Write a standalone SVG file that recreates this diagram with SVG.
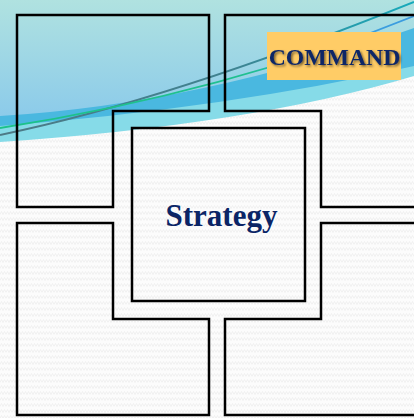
<svg xmlns="http://www.w3.org/2000/svg" width="414" height="418" viewBox="0 0 414 418">
  <defs>
    <!-- faint zigzag paper texture -->
    <pattern id="zigzag" width="6" height="6" patternUnits="userSpaceOnUse">
      <rect width="6" height="6" fill="#fcfcfc"/>
      <path d="M0,4.5 L1.5,1.5 L3,4.5 L4.5,1.5 L6,4.5" fill="none" stroke="#efefef" stroke-width="0.9"/>
    </pattern>
    <linearGradient id="skyFill" x1="0" y1="0" x2="0" y2="1">
      <stop offset="0" stop-color="#b0e2e0"/>
      <stop offset="1" stop-color="#8ccbea"/>
    </linearGradient>
    <linearGradient id="darkLine" gradientUnits="userSpaceOnUse" x1="0" y1="0" x2="414" y2="0">
      <stop offset="0" stop-color="#4d7a86"/>
      <stop offset="0.55" stop-color="#3f8290"/>
      <stop offset="1" stop-color="#17aabb"/>
    </linearGradient>
    <linearGradient id="greenLine" gradientUnits="userSpaceOnUse" x1="0" y1="0" x2="414" y2="0">
      <stop offset="0" stop-color="#1cc28a"/>
      <stop offset="0.6" stop-color="#20c090"/>
      <stop offset="0.8" stop-color="#3aa2dc"/>
      <stop offset="1" stop-color="#3b9be0"/>
    </linearGradient>
    <filter id="textShadow" x="-10%" y="-30%" width="120%" height="160%">
      <feDropShadow dx="1.5" dy="1.5" stdDeviation="0.9" flood-color="#000" flood-opacity="0.55"/>
    </filter>
    <style>
      .piece { fill: none; stroke: #000; stroke-width: 2.5; stroke-linejoin: miter; }
      .label { font-family: "Liberation Serif", "Times New Roman", serif; font-weight: bold; fill: #0b2566; text-anchor: middle; }
    </style>
  </defs>

  <!-- background -->
  <rect width="414" height="418" fill="url(#zigzag)"/>

  <!-- sweeping wave header -->
  <g id="wave">
    <path d="M0,0 H414 V76 Q250,125 0,142 Z" fill="#86dbe8"/>
    <path d="M0,0 H414 V66 Q230,108 0,126 Z" fill="#4ab8e0"/>
    <path d="M0,0 H414 V28 Q200,104 0,116 Z" fill="url(#skyFill)"/>
    <path d="M0,135 Q170,100 414,2" fill="none" stroke="url(#darkLine)" stroke-width="2"/>
    <path d="M0,128 Q228,92 414,16" fill="none" stroke="url(#greenLine)" stroke-width="1.8"/>
  </g>

  <!-- four L-shaped quadrants -->
  <g id="top-left">
    <path class="piece" d="M17,15 H209 V111 H113 V207 H17 Z"/>
  </g>
  <g id="top-right">
    <path class="piece" d="M225,15 H417 V207 H321 V111 H225 Z"/>
  </g>
  <g id="bottom-right">
    <path class="piece" d="M321,223 H417 V415 H225 V319 H321 Z"/>
  </g>
  <g id="bottom-left">
    <path class="piece" d="M17,223 H113 V319 H209 V415 H17 Z"/>
  </g>

  <!-- centre square -->
  <g id="strategy">
    <rect class="piece" x="132" y="128" width="173" height="173"/>
    <text class="label" x="221.5" y="226" font-size="31">Strategy</text>
  </g>

  <!-- title tag -->
  <g id="command">
    <rect x="267" y="32" width="134" height="48" fill="#ffcc66"/>
    <text class="label" x="334.5" y="65" font-size="23.7" filter="url(#textShadow)">COMMAND</text>
  </g>

  <g id="connectors"/>
</svg>
